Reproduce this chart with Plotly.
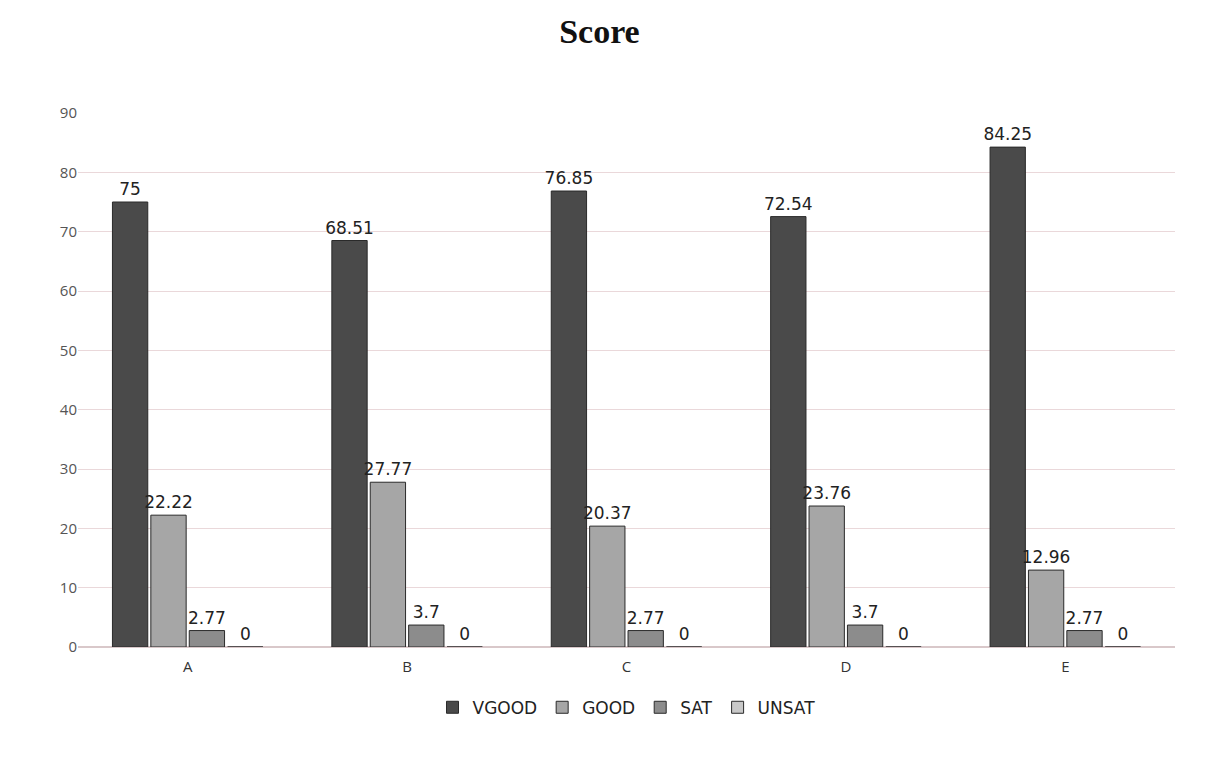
import plotly.graph_objects as go

categories = ["A", "B", "C", "D", "E"]
vgood = [75, 68.51, 76.85, 72.54, 84.25]
good = [22.22, 27.77, 20.37, 23.76, 12.96]
sat = [2.77, 3.7, 2.77, 3.7, 2.77]
unsat = [0, 0, 0, 0, 0]

series = [
    ("VGOOD", vgood, "#4a4a4a"),
    ("GOOD", good, "#a6a6a6"),
    ("SAT", sat, "#8c8c8c"),
    ("UNSAT", unsat, "#c8c8c8"),
]

fig = go.Figure()
for name, vals, col in series:
    fig.add_trace(go.Bar(
        name=name, x=categories, y=vals,
        marker=dict(color=col, line=dict(color="#2a2a2a", width=1)),
        text=[f"{v:g}" for v in vals], textposition="outside",
        textfont=dict(size=17, color="#222222", family="DejaVu Sans"),
        constraintext="none",
        cliponaxis=False,
    ))

fig.update_layout(
    width=1207, height=764,
    paper_bgcolor="white", plot_bgcolor="white",
    barmode="group", bargap=0.3, bargroupgap=0.08,
    title=dict(text="<b>Score</b>", x=0.49, y=0.985, yanchor="top", xanchor="center",
               font=dict(family="Liberation Serif", size=34, color="#111111")),
    margin=dict(l=70, r=40, t=105, b=125),
    legend=dict(orientation="h", x=0.5, xanchor="center", y=-0.08, yanchor="top",
                font=dict(size=17, color="#222222", family="DejaVu Sans")),
    showlegend=True,
)
fig.update_yaxes(range=[0, 90], dtick=10, showgrid=True, gridcolor="#ead8da",
                 tickfont=dict(size=15, color="#555555"), zeroline=True,
                 zerolinecolor="#d9c8ca", ticks="", ticklen=0)
fig.update_xaxes(showline=True, linecolor="#d9c8ca", ticks="outside", ticklen=6,
                 tickcolor="rgba(0,0,0,0)", tickfont=dict(size=15, color="#333333"))

fig.write_html("out.html")
